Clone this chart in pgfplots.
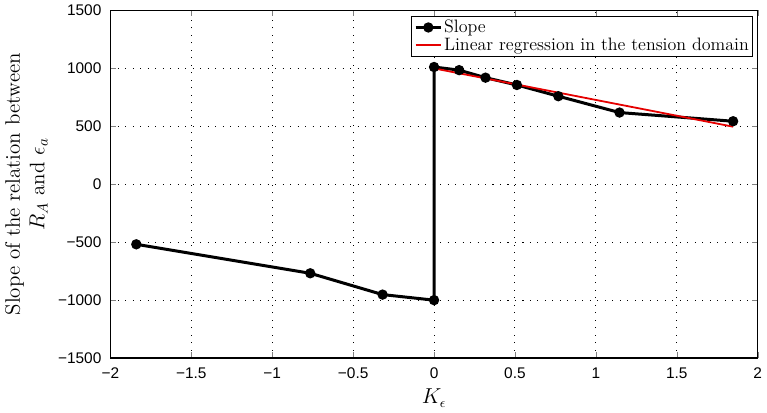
\documentclass[border=0pt]{standalone}
\usepackage{fontspec}
\usepackage{pgfplots}
\pgfplotsset{compat=1.18}
\newfontfamily\ticksfont{Liberation Sans}
\begin{document}
\begin{tikzpicture}
\begin{axis}[
  scale only axis,
  width=432pt, height=232pt,
  xmin=-2, xmax=2, ymin=-1500, ymax=1500,
  xtick={-2,-1.5,-1,-0.5,0,0.5,1,1.5,2},
  xticklabels={−2,−1.5,−1,−0.5,0,0.5,1,1.5,2},
  ytick={-1500,-1000,-500,0,500,1000,1500},
  yticklabels={−1500,−1000,−500,0,500,1000,1500},
  tick label style={font=\ticksfont\fontsize{10.3}{12}\selectfont},
  yticklabel style={xshift=-2.5pt},
  xticklabel style={yshift=-3pt},
  tick align=inside,
  major tick length=4pt,
  axis line style={line width=0.8pt},
  xmajorgrids, ymajorgrids,
  major grid style={black, line width=0.7pt, dash pattern=on 0.7pt off 4.3pt},
  xlabel={$K_\epsilon$},
  ylabel={Slope of the relation between\\ $R_A$ and $\epsilon_a$},
  ylabel style={align=center, font=\fontsize{14}{16.5}\selectfont},
  xlabel style={font=\fontsize{13.5}{16}\selectfont},
  legend style={at={(0.993,0.985)}, anchor=north east, draw=black, line width=0.8pt,
    font=\fontsize{12}{12.5}\selectfont, inner sep=1.5pt, row sep=0pt,
    nodes={inner sep=1pt}},
  legend cell align=left,
  legend image code/.code={\draw[mark repeat=2, mark phase=2] plot coordinates {(0pt,0pt) (8.5pt,0pt) (17pt,0pt)};},
]
\addplot[black, line width=2pt, mark=*, mark size=2.4pt, mark options={solid, fill=black}]
coordinates {
(-1.84,-518) (-0.765,-768) (-0.318,-952) (0,-1000) (0,1012)
(0.155,985) (0.318,920) (0.512,857) (0.768,760) (1.146,619) (1.848,544)
};
\addlegendentry{Slope}
\addplot[red!90!black, line width=1.2pt, mark=none]
coordinates {(0,1000) (1.848,497)};
\addlegendentry{Linear regression in the tension domain}
\end{axis}
\end{tikzpicture}
\end{document}
